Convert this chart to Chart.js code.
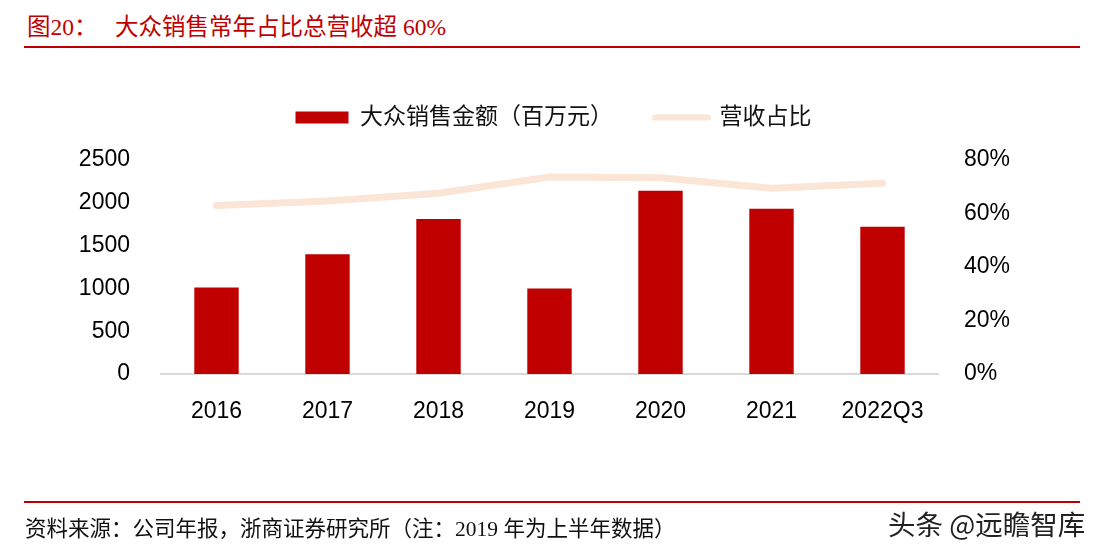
<!DOCTYPE html>
<html>
<head>
<meta charset="utf-8">
<script src="https://cdn.jsdelivr.net/npm/chart.js@4"></script>
<style>
    body { margin: 0; width: 1107px; height: 550px; background: #fff; position: relative; overflow: hidden; }
    #chart { position: absolute; left: 0; top: 0; }
    .title { position: absolute; left: 27px; top: 8px; font: 23.5px "Liberation Serif", "Noto Sans CJK SC", serif; color: #c00000; white-space: pre; }
    .rule { position: absolute; left: 24px; width: 1056px; height: 2px; background: #c00000; }
    .source { position: absolute; left: 25px; top: 511px; font: 21.5px "Liberation Serif", "Noto Sans CJK SC", serif; color: #111; white-space: pre; }
    .mark { position: absolute; left: 888px; top: 503px; font: 27.5px "Noto Sans CJK SC", sans-serif; color: #222; }
</style>
</head>
<body>
<div class="title">图20：   大众销售常年占比总营收超 60%</div>
<div class="rule" style="top: 46px;"></div>
<canvas id="chart" width="1107" height="550"></canvas>
<div class="rule" style="top: 501px;"></div>
<div class="source">资料来源：公司年报，浙商证券研究所（注：2019 年为上半年数据）</div>
<div class="mark">头条 @远瞻智库</div>
<script>
    const years = ['2016', '2017', '2018', '2019', '2020', '2021', '2022Q3'];
    const salesAmount = [1010, 1400, 1810, 1000, 2140, 1930, 1720];
    const revenueShare = [63.0, 64.7, 67.6, 73.6, 73.4, 69.4, 71.3];

    const tickFont = { family: '"Liberation Sans", Arial, sans-serif', size: 23 };

    // extra room between the legend and the plot
    const legendGap = {
        id: 'legendGap',
        beforeInit(chart) {
            const fit = chart.legend.fit;
            chart.legend.fit = function () {
                fit.bind(chart.legend)();
                this.height += 21;
            };
        }
    };

    new Chart(document.getElementById('chart'), {
        data: {
            labels: years,
            datasets: [
                {
                    type: 'line',
                    label: '营收占比',
                    data: revenueShare,
                    yAxisID: 'y1',
                    borderColor: '#fbe5d6',
                    backgroundColor: '#fbe5d6',
                    borderWidth: 7,
                    borderCapStyle: 'round',
                    pointRadius: 0,
                    tension: 0,
                    order: 1
                },
                {
                    type: 'bar',
                    label: '大众销售金额（百万元）',
                    data: salesAmount,
                    yAxisID: 'y',
                    backgroundColor: '#c00000',
                    categoryPercentage: 1,
                    barPercentage: 0.4,
                    order: 2
                }
            ]
        },
        options: {
            responsive: false,
            animation: false,
            layout: { padding: { top: 64, left: 0, right: 0, bottom: 0 } },
            plugins: {
                tooltip: { enabled: false },
                legend: {
                    position: 'top',
                    reverse: true,
                    labels: {
                        color: '#111',
                        font: { family: '"Liberation Serif", "Noto Sans CJK SC", serif', size: 23 },
                        boxWidth: 53,
                        boxHeight: 12,
                        usePointStyle: true,
                        pointStyleWidth: 53,
                        padding: 42,
                        generateLabels: (chart) => chart.data.datasets.map((ds, i) => ({
                            text: ds.label,
                            datasetIndex: i,
                            fillStyle: ds.type === 'bar' ? ds.backgroundColor : 'transparent',
                            strokeStyle: ds.type === 'bar' ? ds.backgroundColor : ds.borderColor,
                            lineWidth: ds.type === 'bar' ? 0 : 6,
                            lineCap: 'round',
                            pointStyle: ds.type === 'bar' ? 'rect' : 'line',
                            fontColor: '#111'
                        }))
                    }
                }
            },
            scales: {
                x: {
                    grid: { display: false },
                    border: { display: true, color: '#d9d9d9', width: 2 },
                    ticks: { color: '#000', font: tickFont, padding: 16 },
                    afterFit: (s) => { s.height = 176; }
                },
                y: {
                    position: 'left',
                    min: 0,
                    max: 2500,
                    grid: { display: false },
                    border: { display: false },
                    ticks: { stepSize: 500, color: '#000', font: tickFont, padding: 23, callback: (v) => String(v) },
                    afterFit: (s) => { s.width = 161; }
                },
                y1: {
                    position: 'right',
                    min: 0,
                    max: 80,
                    grid: { display: false },
                    border: { display: false },
                    ticks: { stepSize: 20, color: '#000', font: tickFont, padding: 18, callback: (v) => v + '%' },
                    afterFit: (s) => { s.width = 169; }
                }
            }
        },
        plugins: [legendGap]
    });
</script>
</body>
</html>
